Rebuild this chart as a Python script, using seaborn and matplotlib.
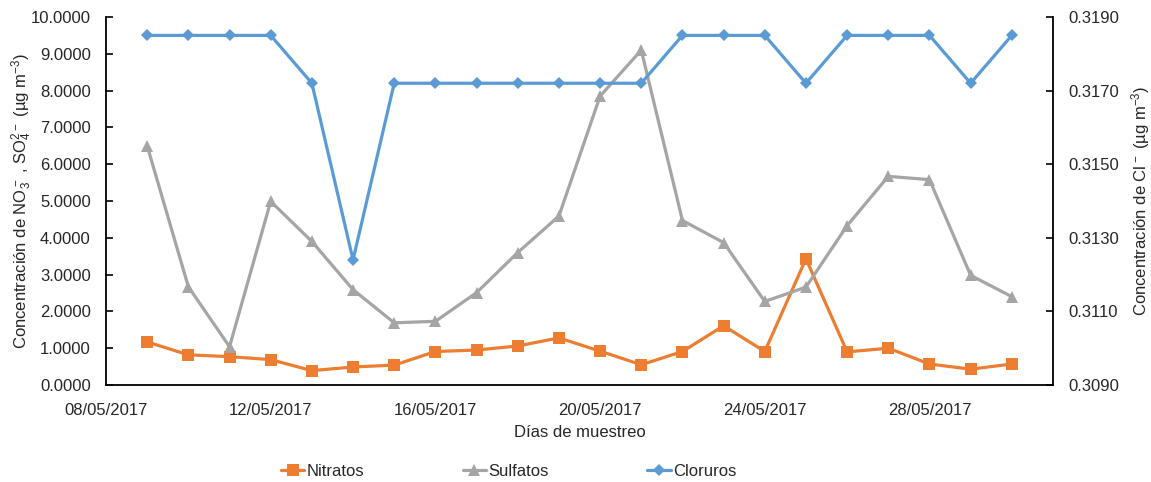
"""
Concentración de nitratos, sulfatos y cloruros por día de muestreo
"""
import numpy as np
import pandas as pd
import matplotlib
matplotlib.use("Agg")
import matplotlib.pyplot as plt
import matplotlib.dates as mdates
from matplotlib.ticker import FormatStrFormatter, MultipleLocator
import seaborn as sns

# Data
fechas = pd.date_range("2017-05-09", "2017-05-30", freq="D")
nitratos = [1.17, 0.82, 0.77, 0.69, 0.39, 0.49, 0.54, 0.91, 0.95, 1.06, 1.28,
            0.92, 0.55, 0.91, 1.61, 0.91, 3.43, 0.90, 1.00, 0.57, 0.43, 0.57]
sulfatos = [6.50, 2.67, 1.04, 4.99, 3.90, 2.59, 1.69, 1.73, 2.51, 3.60, 4.59,
            7.85, 9.10, 4.47, 3.87, 2.27, 2.66, 4.33, 5.67, 5.58, 2.98, 2.40]
cloruros = [0.3185, 0.3185, 0.3185, 0.3185, 0.3172, 0.3124, 0.3172, 0.3172,
            0.3172, 0.3172, 0.3172, 0.3172, 0.3172, 0.3185, 0.3185, 0.3185,
            0.3172, 0.3185, 0.3185, 0.3185, 0.3172, 0.3185]

df = pd.DataFrame({"fecha": fechas, "Nitratos": nitratos,
                   "Sulfatos": sulfatos, "Cloruros": cloruros})

# Style
sns.set_theme(style="white")
plt.rcParams["font.family"] = ["Liberation Sans", "DejaVu Sans"]
plt.rcParams["mathtext.default"] = "regular"

C_NIT, C_SUL, C_CLO = "#ED7D31", "#A5A5A5", "#5B9BD5"
FS = 12
TXT = "#262626"

fig = plt.figure(figsize=(11.51, 4.82), dpi=100)
ax = fig.add_axes([106 / 1151, 1 - 385 / 482, (1053 - 106) / 1151, (385 - 17) / 482])
ax2 = ax.twinx()

sns.lineplot(data=df, x="fecha", y="Nitratos", ax=ax, color=C_NIT, lw=2.3,
             marker="s", markersize=8, markeredgewidth=0, label="Nitratos", legend=False)
sns.lineplot(data=df, x="fecha", y="Sulfatos", ax=ax, color=C_SUL, lw=2.3,
             marker="^", markersize=9, markeredgewidth=0, label="Sulfatos", legend=False)
sns.lineplot(data=df, x="fecha", y="Cloruros", ax=ax2, color=C_CLO, lw=2.3,
             marker="D", markersize=6.5, markeredgewidth=0, label="Cloruros", legend=False)

# x axis
ax.set_xlim(pd.Timestamp("2017-05-08"), pd.Timestamp("2017-05-31"))
ax.xaxis.set_major_locator(mdates.DayLocator(bymonthday=[8, 12, 16, 20, 24, 28]))
ax.xaxis.set_major_formatter(mdates.DateFormatter("%d/%m/%Y"))
ax.set_xlabel("Días de muestreo", fontsize=FS, color=TXT, labelpad=5)

# left axis
ax.set_ylim(0, 10)
ax.yaxis.set_major_locator(MultipleLocator(1))
ax.yaxis.set_major_formatter(FormatStrFormatter("%.4f"))
ax.set_ylabel(r"Concentración de NO$_3^-$ , SO$_4^{2-}$ (µg m$^{-3}$)",
              fontsize=FS, color=TXT, labelpad=-2)

# right axis
ax2.set_ylim(0.309, 0.319)
ax2.set_yticks(np.linspace(0.309, 0.319, 6))
ax2.yaxis.set_major_formatter(FormatStrFormatter("%.4f"))
ax2.set_ylabel(r"Concentración de Cl$^-$ (µg m$^{-3}$)",
               fontsize=FS, color=TXT, labelpad=7)

for a in (ax, ax2):
    a.spines["top"].set_visible(False)
    for s in a.spines.values():
        s.set_color("black")
        s.set_linewidth(1.3)
    a.tick_params(labelsize=FS, labelcolor=TXT, color="black", direction="in",
                  length=5, width=1.2, pad=11)
    a.grid(False)
ax.spines["right"].set_visible(False)
ax2.spines["left"].set_visible(False)
ax2.spines["bottom"].set_visible(False)
ax.tick_params(axis="x", pad=13)

# legend below plot
h1, l1 = ax.get_legend_handles_labels()
h2, l2 = ax2.get_legend_handles_labels()
fig.legend(h1 + h2, l1 + l2, loc="center left", ncol=3, frameon=False,
           bbox_to_anchor=(281 / 1151, 1 - 471 / 482), fontsize=FS,
           handlelength=1.4, handletextpad=0.15, columnspacing=5.9,
           borderpad=0, borderaxespad=0)

fig.savefig("out.png", dpi=100)
